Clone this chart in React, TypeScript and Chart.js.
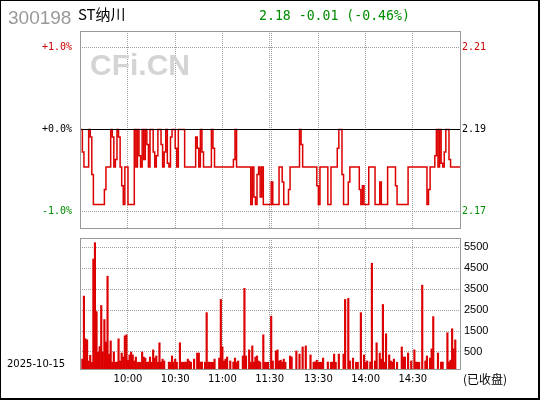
import React, { useEffect, useRef } from 'react';
import { Chart, registerables } from 'chart.js';

Chart.register(...registerables);

// ---- texts ----
const STOCK_CODE = '300198';
const STOCK_NAME = 'ST纳川';
const QUOTE_TEXT = '2.18 -0.01 (-0.46%)';
const TRADE_DATE = '2025-10-15';
const STATUS_TEXT = '(已收盘)';
const WATERMARK = 'CFi.CN';

// ---- scales ----
const PREV_CLOSE = 2.19;
const PCT_TICKS = [-1, 0, 1];
const PCT_RANGE = 1.2;
const GRID_MINUTES = [30, 60, 90, 120, 121, 151, 181, 211];
const TIME_TICK_MINUTES = [30, 60, 90, 120, 151, 181, 211];
const TIME_TICK_LABELS = ['10:00', '10:30', '11:00', '11:30', '13:30', '14:00', '14:30'];
const VOL_TICKS = [500, 1500, 2500, 3500, 4500, 5500];
const VOL_MIN = -312;
const VOL_MAX = 5944;

// ---- minute prices (242 minutes: 9:30-11:30, 13:00-15:00) ----
const PRICES = [
  2.19, 2.184, 2.18, 2.18, 2.18, 2.19, 2.188, 2.178, 2.17, 2.17,
  2.17, 2.17, 2.17, 2.17, 2.17, 2.174, 2.18, 2.18, 2.18, 2.19,
  2.188, 2.18, 2.182, 2.19, 2.188, 2.18, 2.175, 2.17, 2.18, 2.18,
  2.17, 2.17, 2.17, 2.17, 2.19, 2.18, 2.19, 2.183, 2.18, 2.19,
  2.182, 2.19, 2.186, 2.18, 2.19, 2.19, 2.184, 2.18, 2.183, 2.19,
  2.19, 2.186, 2.18, 2.184, 2.19, 2.181, 2.18, 2.188, 2.19, 2.19,
  2.185, 2.18, 2.19, 2.19, 2.19, 2.19, 2.18, 2.18, 2.18, 2.18,
  2.18, 2.18, 2.18, 2.188, 2.185, 2.18, 2.19, 2.184, 2.18, 2.18,
  2.18, 2.18, 2.18, 2.19, 2.185, 2.18, 2.18, 2.18, 2.18, 2.18,
  2.18, 2.18, 2.18, 2.18, 2.18, 2.18, 2.18, 2.182, 2.19, 2.18,
  2.18, 2.18, 2.18, 2.18, 2.18, 2.18, 2.18, 2.18, 2.17, 2.18,
  2.172, 2.17, 2.178, 2.18, 2.172, 2.18, 2.17, 2.17, 2.17, 2.17,
  2.17, 2.176, 2.17, 2.17, 2.17, 2.17, 2.18, 2.18, 2.176, 2.17,
  2.17, 2.17, 2.174, 2.18, 2.18, 2.18, 2.18, 2.18, 2.18, 2.19,
  2.186, 2.18, 2.18, 2.18, 2.18, 2.18, 2.18, 2.18, 2.18, 2.18,
  2.175, 2.17, 2.18, 2.18, 2.18, 2.18, 2.18, 2.17, 2.17, 2.18,
  2.18, 2.18, 2.18, 2.185, 2.19, 2.19, 2.178, 2.17, 2.17, 2.17,
  2.176, 2.18, 2.18, 2.18, 2.18, 2.18, 2.18, 2.174, 2.17, 2.175,
  2.17, 2.17, 2.17, 2.18, 2.18, 2.18, 2.18, 2.17, 2.17, 2.17,
  2.176, 2.17, 2.17, 2.17, 2.17, 2.18, 2.18, 2.18, 2.18, 2.18,
  2.175, 2.17, 2.17, 2.17, 2.17, 2.17, 2.17, 2.17, 2.18, 2.18,
  2.18, 2.18, 2.18, 2.18, 2.18, 2.18, 2.18, 2.18, 2.18, 2.18,
  2.17, 2.174, 2.18, 2.18, 2.18, 2.183, 2.19, 2.18, 2.19, 2.181,
  2.18, 2.184, 2.19, 2.19, 2.182, 2.18, 2.18, 2.18, 2.18, 2.18,
  2.18, 2.18,
];

// ---- minute volumes (minute index, volume) ----
const VOL_MINUTE = [
  1, 2, 3, 4, 5, 6, 7, 8, 9, 10, 11, 12, 13, 14, 15, 16, 17, 18, 19, 20,
  21, 22, 23, 24, 25, 26, 27, 28, 29, 30, 31, 32, 33, 34, 35, 36, 37, 38, 39, 40,
  41, 42, 43, 44, 45, 46, 47, 48, 49, 50, 51, 52, 53, 56, 57, 58, 59, 60, 61, 63,
  64, 65, 66, 67, 68, 69, 70, 72, 74, 75, 76, 77, 79, 80, 81, 82, 83, 84, 85, 88,
  89, 90, 91, 92, 93, 95, 97, 98, 99, 100, 103, 104, 105, 107, 108, 109, 110, 111, 112, 113,
  114, 116, 117, 118, 119,
  121, 122, 124, 125, 126, 127, 128, 129, 130, 133, 134, 137, 139, 141, 143, 146, 148, 149, 150, 151,
  152, 153, 154, 157, 159, 160, 161, 162, 164, 167, 168, 170, 171, 173, 175, 176, 178, 180, 181, 182,
  184, 185, 187, 188, 190, 191, 192, 193, 194, 196, 197, 198, 199, 201, 204, 205, 206, 208, 210, 212,
  213, 214, 215, 217, 219, 220, 222, 223, 224, 227, 229, 230, 233, 234, 235, 236, 237, 238,
];
const VOL_VALUE = [
  160, 3170, 1130, 1080, 70, 340, 10, 4940, 5720, 2430, 500, 760, 2720, 500, 2050, 980, 4120, 400, 1030, 10,
  500, 10, 20, 1130, 70, 450, 260, 1270, 1320, 110, 360, 500, 360, 70, 260, 10, 10, 10, 500, 260,
  210, 10, 20, 260, 10, 600, 210, 310, 10, 940, 20, 160, 70, 20, 10, 310, 20, 160, 10, 940,
  10, 10, 20, 10, 160, 70, 10, 160, 450, 450, 20, 20, 10, 2380, 20, 10, 10, 10, 160, 210,
  3010, 740, 70, 160, 260, 70, 20, 210, 10, 70, 310, 3540, 310, 600, 10, 790, 20, 260, 310, 70,
  20, 1320, 10, 10, 10,
  2210, 70, 550, 600, 70, 110, 20, 160, 10, 310, 260, 550, 400, 740, 790, 360, 20, 20, 110, 10,
  10, 10, 210, 20, 10, 20, 400, 10, 400, 400, 3010, 3060, 70, 210, 10, 10, 2380, 360, 10, 70,
  20, 4740, 70, 940, 450, 160, 2770, 10, 1370, 360, 70, 20, 160, 10, 740, 260, 260, 450, 70, 600,
  20, 10, 10, 3690, 70, 310, 210, 650, 2190, 450, 20, 20, 1420, 20, 110, 1610, 650, 1080,
];

const RED = '#dd0000';
const TICK_RED = '#cc0000';
const GREEN = '#008c00';
const GRID = '#a0a0a0';
const FRAME = '#999999';

const zeroPad = (s: any) => {
  s.paddingTop = 0;
  s.paddingBottom = 0;
  s.paddingLeft = 0;
  s.paddingRight = 0;
};

export default function App() {
  const priceRef = useRef<HTMLCanvasElement>(null);
  const volRef = useRef<HTMLCanvasElement>(null);

  useEffect(() => {
    const framePlugin = {
      id: 'frame',
      afterDraw(chart: any) {
        const { ctx, chartArea: a } = chart;
        ctx.save();
        ctx.strokeStyle = FRAME;
        ctx.lineWidth = 1;
        ctx.strokeRect(a.left + 0.5, a.top + 0.5, a.right - a.left, a.bottom - a.top);
        ctx.restore();
      },
    };

    const priceDeco = {
      id: 'priceDeco',
      beforeDatasetsDraw(chart: any) {
        const { ctx } = chart;
        ctx.save();
        ctx.fillStyle = '#d4d4d4';
        ctx.font = 'bold 30px "Liberation Sans"';
        ctx.textBaseline = 'alphabetic';
        ctx.textAlign = 'left';
        ctx.fillText(WATERMARK, 90, 75);
        ctx.restore();
      },
      afterDatasetsDraw(chart: any) {
        const { ctx, chartArea: a } = chart;
        const y0 = Math.floor(chart.scales.y.getPixelForValue(0)) + 0.5;
        ctx.save();
        ctx.strokeStyle = '#000';
        ctx.lineWidth = 1;
        ctx.beginPath();
        ctx.moveTo(a.left, y0);
        ctx.lineTo(a.right, y0);
        ctx.stroke();
        ctx.restore();
      },
      afterDraw(chart: any) {
        const { ctx } = chart;
        ctx.save();
        ctx.textBaseline = 'alphabetic';
        ctx.textAlign = 'left';
        ctx.fillStyle = '#999999';
        ctx.font = '19px "Liberation Sans"';
        ctx.fillText(STOCK_CODE, 8, 24);
        ctx.fillStyle = '#000';
        ctx.font = '15px "Noto Sans CJK SC"';
        ctx.fillText(STOCK_NAME, 78, 20);
        ctx.fillStyle = GREEN;
        ctx.font = '13.2px "DejaVu Sans Mono"';
        ctx.fillText(QUOTE_TEXT, 259, 20);
        ctx.restore();
      },
    };

    const volDeco = {
      id: 'volDeco',
      afterDraw(chart: any) {
        const { ctx } = chart;
        ctx.save();
        ctx.textBaseline = 'alphabetic';
        ctx.textAlign = 'left';
        ctx.fillStyle = '#000';
        ctx.font = '10px "DejaVu Sans"';
        ctx.fillText(TRADE_DATE, 7, 135);
        ctx.font = '12px "Noto Sans CJK SC"';
        ctx.fillText(STATUS_TEXT, 463, 152);
        ctx.restore();
      },
    };

    const pctColor = (ctx: any) => {
      const v = ctx.tick ? ctx.tick.value : 0;
      return v > 0 ? TICK_RED : v < 0 ? GREEN : '#000';
    };

    const priceChart = new Chart(priceRef.current as HTMLCanvasElement, {
      type: 'line',
      data: {
        datasets: [
          {
            data: PRICES.map((p, i) => ({ x: i, y: ((p - PREV_CLOSE) / PREV_CLOSE) * 100 })),
            borderColor: RED,
            borderWidth: 1.5,
            pointRadius: 0,
            stepped: true,
            fill: false,
          },
        ],
      },
      options: {
        animation: false,
        responsive: false,
        maintainAspectRatio: false,
        events: [],
        layout: { padding: { top: 31, left: 0, right: 0, bottom: 0 } },
        plugins: { legend: { display: false }, tooltip: { enabled: false } },
        scales: {
          x: {
            type: 'linear',
            min: -0.5,
            max: 241,
            afterBuildTicks: (s: any) => {
              s.ticks = GRID_MINUTES.map((v) => ({ value: v }));
            },
            ticks: { display: false },
            grid: { color: GRID, drawTicks: false, lineWidth: 1 },
            border: { display: false, dash: [1, 1] },
            afterFit: (s: any) => {
              s.height = 4;
              zeroPad(s);
            },
          },
          y: {
            position: 'left',
            min: -PCT_RANGE,
            max: PCT_RANGE,
            afterBuildTicks: (s: any) => {
              s.ticks = PCT_TICKS.map((v) => ({ value: v }));
            },
            ticks: {
              callback: (v: any) => (v < 0 ? '' : '+') + Number(v).toFixed(1) + '%',
              color: pctColor,
              font: { family: '"DejaVu Sans Mono"', size: 10 },
              padding: 8,
            },
            grid: {
              color: (ctx: any) => (ctx.tick && ctx.tick.value === 0 ? 'rgba(0,0,0,0)' : GRID),
              drawTicks: false,
            },
            border: { display: false, dash: [1, 1] },
            afterFit: (s: any) => {
              s.width = 80;
              zeroPad(s);
            },
          },
          y2: {
            position: 'right',
            min: -PCT_RANGE,
            max: PCT_RANGE,
            afterBuildTicks: (s: any) => {
              s.ticks = PCT_TICKS.map((v) => ({ value: v }));
            },
            ticks: {
              callback: (v: any) => (PREV_CLOSE * (1 + Number(v) / 100)).toFixed(2),
              color: pctColor,
              font: { family: '"DejaVu Sans Mono"', size: 10 },
              padding: 2,
            },
            grid: { display: false, drawTicks: false },
            border: { display: false },
            afterFit: (s: any) => {
              s.width = 80;
              zeroPad(s);
            },
          },
        },
      } as any,
      plugins: [priceDeco, framePlugin],
    });

    const volChart = new Chart(volRef.current as HTMLCanvasElement, {
      type: 'bar',
      data: {
        datasets: [
          {
            data: VOL_MINUTE.map((m, k) => ({ x: m, y: [VOL_MIN, VOL_VALUE[k]] })),
            backgroundColor: RED,
            borderWidth: 0,
            barThickness: 1.5,
          },
        ],
      },
      options: {
        animation: false,
        responsive: false,
        maintainAspectRatio: false,
        events: [],
        layout: { padding: { top: 6, left: 80, right: 0, bottom: 0 } },
        plugins: { legend: { display: false }, tooltip: { enabled: false } },
        scales: {
          x: {
            type: 'linear',
            min: -0.5,
            max: 241,
            offset: false,
            afterBuildTicks: (s: any) => {
              s.ticks = GRID_MINUTES.map((v) => ({ value: v }));
            },
            ticks: {
              autoSkip: false,
              maxRotation: 0,
              callback: (v: any) => {
                const k = TIME_TICK_MINUTES.indexOf(Number(v));
                return k >= 0 ? TIME_TICK_LABELS[k] : '';
              },
              color: '#000',
              font: { family: '"DejaVu Sans"', size: 10 },
              padding: 4,
            },
            grid: { color: GRID, drawTicks: false, offset: false },
            border: { display: false, dash: [1, 1] },
            afterFit: (s: any) => {
              s.height = 31;
              zeroPad(s);
            },
          },
          y: {
            position: 'right',
            min: VOL_MIN,
            max: VOL_MAX,
            afterBuildTicks: (s: any) => {
              s.ticks = VOL_TICKS.map((v) => ({ value: v }));
            },
            ticks: {
              color: '#000',
              font: { family: '"Liberation Sans"', size: 11 },
              padding: 4,
              callback: (v: any) => String(v),
            },
            grid: { color: GRID, drawTicks: false },
            border: { display: false, dash: [1, 1] },
            afterFit: (s: any) => {
              s.width = 80;
              zeroPad(s);
            },
          },
        },
      } as any,
      plugins: [volDeco, framePlugin],
    });

    return () => {
      priceChart.destroy();
      volChart.destroy();
    };
  }, []);

  return (
    <div style={{ position: 'absolute', left: 0, top: 0, width: 540, height: 400, background: '#fff' }}>
      <canvas
        ref={priceRef}
        width={540}
        height={232}
        style={{ position: 'absolute', left: 0, top: 0, width: 540, height: 232, display: 'block' }}
      />
      <canvas
        ref={volRef}
        width={540}
        height={168}
        style={{ position: 'absolute', left: 0, top: 232, width: 540, height: 168, display: 'block' }}
      />
      <div
        style={{
          position: 'absolute',
          left: 0,
          top: 0,
          width: 540,
          height: 400,
          boxSizing: 'border-box',
          borderStyle: 'solid',
          borderColor: '#000',
          borderWidth: '1px 2px 2px 1px',
          pointerEvents: 'none',
        }}
      />
    </div>
  );
}
